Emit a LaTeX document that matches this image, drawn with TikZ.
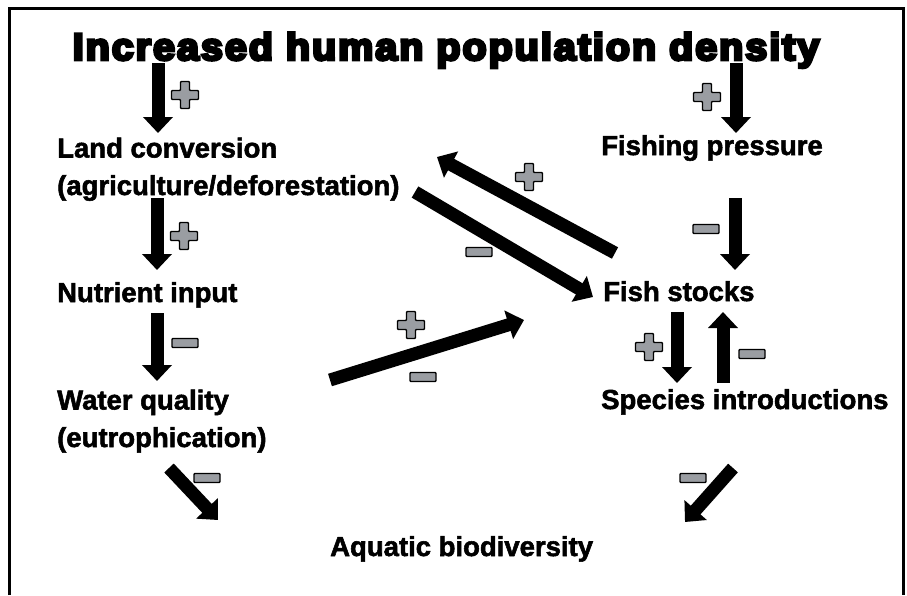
\documentclass[tikz,border=0pt]{standalone}
\usepackage{fontspec}
\usepackage{graphicx}
\usetikzlibrary{arrows.meta}
\newfontfamily\labfont[FakeBold=2]{Liberation Sans Bold}
\newfontfamily\ttlfont[FakeBold=7.5,LetterSpace=5]{Liberation Sans Bold}
\definecolor{signgray}{HTML}{9A9DA2}
\tikzset{
  lbl/.style={font=\labfont\fontsize{27.5}{37.5}\selectfont, inner sep=0pt, anchor=base west, align=left},
  bigarrow/.style={line width=13pt, -{Triangle[width=29pt,length=16pt]}},
  signstyle/.style={fill=signgray, draw=black, line width=1.4pt, rounded corners=0.8pt},
  plussign/.pic={\filldraw[signstyle] (-4.5,-13.5) -- (4.5,-13.5) -- (4.5,-4.5) -- (13.5,-4.5) -- (13.5,4.5) -- (4.5,4.5) -- (4.5,13.5) -- (-4.5,13.5) -- (-4.5,4.5) -- (-13.5,4.5) -- (-13.5,-4.5) -- (-4.5,-4.5) -- cycle;},
  minussign/.pic={\filldraw[signstyle] (-13,-4.5) rectangle (13,4.5);}
}
\begin{document}
\begin{tikzpicture}[x=1pt,y=-1pt]
\useasboundingbox (0,0) rectangle (907,595);
% frame (open at bottom)
\draw[line width=3pt] (9,595) -- (9,8) -- (903,8) -- (903,595);

% texts
\node[inner sep=0pt, anchor=base] (title) at (446,60)
  {\scalebox{1.04}[1]{\ttlfont\fontsize{38}{38}\selectfont Increased human population density}};
\node[lbl] (land) at (57,195) {Land conversion\\(agriculture/deforestation)};
\node[lbl] (nutr) at (57,302) {Nutrient input};
\node[lbl] (water) at (57,447) {Water quality\\(eutrophication)};
\node[lbl] (fishp) at (601,155) {Fishing pressure};
\node[lbl] (fishs) at (603,301) {Fish stocks};
\node[lbl] (spec) at (601,409) {Species introductions};
\node[lbl] (aqua) at (330,556) {Aquatic biodiversity};

% arrow end points
\coordinate (t1a) at (158,63);  \coordinate (t1b) at (158,133);
\coordinate (t2a) at (736,63);  \coordinate (t2b) at (736,133);
\coordinate (l1a) at (157,198); \coordinate (l1b) at (157,270);
\coordinate (l2a) at (157,313); \coordinate (l2b) at (157,381);
\coordinate (r1a) at (735,198); \coordinate (r1b) at (735,270);
\coordinate (r2a) at (677,312); \coordinate (r2b) at (677,383);
\coordinate (r3a) at (723,383); \coordinate (r3b) at (723,312);
\coordinate (d1a) at (615,253); \coordinate (d1b) at (437,157);
\coordinate (d2a) at (415,192); \coordinate (d2b) at (593,297);
\coordinate (d3a) at (330,380); \coordinate (d3b) at (524,320);
\coordinate (b1a) at (169,468); \coordinate (b1b) at (218,520);
\coordinate (b2a) at (733,468); \coordinate (b2b) at (685,522);

% arrows
\draw[bigarrow] (t1a) -- (t1b);
\draw[bigarrow] (t2a) -- (t2b);
\draw[bigarrow] (l1a) -- (l1b);
\draw[bigarrow] (l2a) -- (l2b);
\draw[bigarrow] (r1a) -- (r1b);
\draw[bigarrow] (r2a) -- (r2b);
\draw[bigarrow] (r3a) -- (r3b);
\draw[bigarrow] (d1a) -- (d1b);
\draw[bigarrow] (d2a) -- (d2b);
\draw[bigarrow] (d3a) -- (d3b);
\draw[bigarrow] (b1a) -- (b1b);
\draw[bigarrow] (b2a) -- (b2b);

% signs
\pic at (185,95) {plussign};
\pic at (707,97) {plussign};
\pic at (184,236) {plussign};
\pic at (185,343) {minussign};
\pic at (529,177) {plussign};
\pic at (479,252) {minussign};
\pic at (706,229) {minussign};
\pic at (649,347) {plussign};
\pic at (752,354) {minussign};
\pic at (411,325) {plussign};
\pic at (423,377) {minussign};
\pic at (207,478) {minussign};
\pic at (693,478) {minussign};
\end{tikzpicture}
\end{document}
